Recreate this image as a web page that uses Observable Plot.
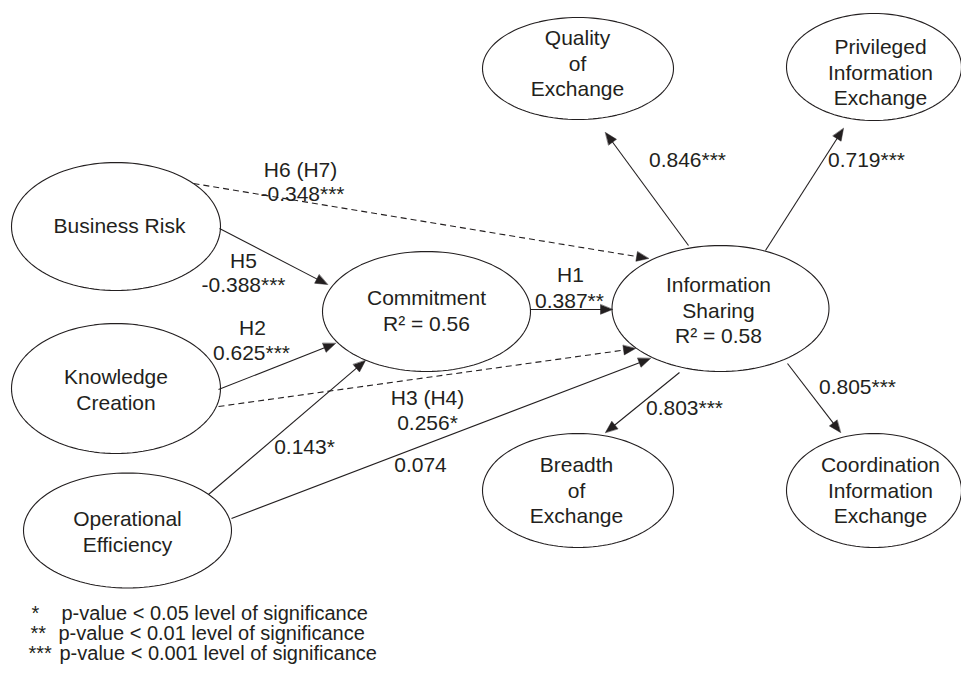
<!DOCTYPE html>
<html><head><meta charset="utf-8">
<script src="https://cdn.jsdelivr.net/npm/d3@7"></script>
<script src="https://cdn.jsdelivr.net/npm/@observablehq/plot@0.6"></script>
<style>body{margin:0;background:#fff} svg{display:block}</style>
</head><body><div id="chart"></div>
<script>
// Nodes (constructs) of the path model
const nodeNames = ["Business Risk", "Knowledge\nCreation", "Operational\nEfficiency", "Commitment\nR² = 0.56",
  "Information\nSharing\nR² = 0.58", "Quality\nof\nExchange", "Privileged\nInformation\nExchange",
  "Breadth\nof\nExchange", "Coordination\nInformation\nExchange"];
// layout of the ellipses
const nodeCx = [115.5, 115.5, 127, 426, 720, 577.5, 873.5, 577.5, 873.5];
const nodeCy = [226, 388, 530, 311, 308, 68, 66.5, 490, 490];
const nodeRx = [104.5, 104.5, 104, 104, 108.5, 95.5, 87.5, 95.5, 87.5];
const nodeRy = [64, 65, 57.5, 60, 63, 51, 53.5, 57, 57];
const labelX = [119, 115.5, 127, 426, 718, 577, 880, 576, 880];
const labelY = [224, 388, 530, 309, 309, 62, 71, 489, 489];

// Paths (from -> to), dashed = indirect/mediated hypothesis
const edgeFrom = [0, 0, 1, 1, 2, 2, 3, 4, 4, 4, 4];
const edgeTo   = [3, 4, 3, 4, 3, 4, 4, 5, 6, 7, 8];
const edgeDashed = [false, true, false, true, false, false, false, false, false, false, false];
const edgeX1 = [219, 193, 218, 218, 208, 231, 530, 688, 765, 679, 787];
const edgeY1 = [228, 183, 389, 406, 494, 518, 309, 245, 250, 372, 363];
const edgeX2 = [327, 648, 335, 635, 365, 650, 612, 605, 843, 605, 840];
const edgeY2 = [284, 258, 343, 348, 360, 358, 309, 132, 128, 432, 432];

// Path coefficients / hypothesis labels
const coefText = ["H6 (H7)", "-0.348***", "H5", "-0.388***", "H2", "0.625***", "0.143*", "H1", "0.387**",
  "H3 (H4)", "0.256*", "0.074", "0.846***", "0.719***", "0.803***", "0.805***"];
const coefX = [300, 302, 243, 243, 252, 251, 304, 570, 569, 427, 427, 420, 687, 866, 684, 857];
const coefY = [170, 194, 261, 285, 328, 353, 447, 275, 301, 398, 423, 465, 160, 160, 408, 387];

// Significance legend
const legendStars = ["*", "**", "***"];
const legendText = ["p-value < 0.05 level of significance", "p-value < 0.01 level of significance", "p-value < 0.001 level of significance"];
const legendStarX = [31, 30, 28];
const legendTextX = [61, 58, 59];
const legendY = [613, 633, 653];

// ---- build tables ----
const nodes = nodeNames.map((name, i) => ({name, cx: nodeCx[i], cy: nodeCy[i], rx: nodeRx[i], ry: nodeRy[i], lx: labelX[i], ly: labelY[i]}));
const ellipsePts = [];
nodes.forEach((n, i) => {
  for (let k = 0; k < 120; k++) {
    const t = (k / 120) * 2 * Math.PI;
    ellipsePts.push({node: i, x: n.cx + n.rx * Math.cos(t), y: n.cy + n.ry * Math.sin(t)});
  }
});
const HEAD_LEN = 12, HEAD_HALF = 4.8;
const edges = edgeFrom.map((f, i) => {
  const x1 = edgeX1[i], y1 = edgeY1[i], x2 = edgeX2[i], y2 = edgeY2[i];
  const L = Math.hypot(x2 - x1, y2 - y1), ux = (x2 - x1) / L, uy = (y2 - y1) / L;
  return {from: f, to: edgeTo[i], dashed: edgeDashed[i], x1, y1, x2, y2,
    ex: x2 - ux * HEAD_LEN * 0.7, ey: y2 - uy * HEAD_LEN * 0.7, ux, uy};
});
const heads = [];
edges.forEach((e, i) => {
  const bx = e.x2 - e.ux * HEAD_LEN, by = e.y2 - e.uy * HEAD_LEN;
  heads.push({edge: i, x: e.x2, y: e.y2});
  heads.push({edge: i, x: bx - e.uy * HEAD_HALF, y: by + e.ux * HEAD_HALF});
  heads.push({edge: i, x: bx + e.uy * HEAD_HALF, y: by - e.ux * HEAD_HALF});
});
const coefs = coefText.map((t, i) => ({t, x: coefX[i], y: coefY[i]}));
const legend = legendStars.map((s, i) => ({s, t: legendText[i], sx: legendStarX[i], tx: legendTextX[i], y: legendY[i]}));

const ink = "#231f20";
const chart = Plot.plot({
  width: 961, height: 673, margin: 0,
  x: {domain: [0, 961], range: [0, 961], axis: null},
  y: {domain: [0, 673], range: [0, 673], axis: null},
  style: {fontFamily: "'Liberation Sans', Arial, Helvetica, sans-serif", fontSize: "21px", background: "#fff", color: ink},
  marks: [
    Plot.line(ellipsePts, {x: "x", y: "y", z: "node", curve: "linear-closed", stroke: ink, strokeWidth: 1.1, fill: "none"}),
    Plot.link(edges.filter(e => !e.dashed), {x1: "x1", y1: "y1", x2: "ex", y2: "ey", stroke: ink, strokeWidth: 1.1}),
    Plot.link(edges.filter(e => e.dashed), {x1: "x1", y1: "y1", x2: "ex", y2: "ey", stroke: ink, strokeWidth: 1.1, strokeDasharray: "6,4"}),
    Plot.line(heads, {x: "x", y: "y", z: "edge", curve: "linear-closed", fill: ink, stroke: ink, strokeWidth: 0.5}),
    Plot.text(nodes, {x: "lx", y: "ly", text: "name", fill: ink, fontSize: 21, lineHeight: 1.22}),
    Plot.text(coefs, {x: "x", y: "y", text: "t", fill: ink, fontSize: 21}),
    Plot.text(legend, {x: "sx", y: "y", text: "s", fill: ink, fontSize: 20, textAnchor: "start"}),
    Plot.text(legend, {x: "tx", y: "y", text: "t", fill: ink, fontSize: 20, textAnchor: "start"})
  ]
});
document.getElementById("chart").appendChild(chart);
</script>
</body></html>
